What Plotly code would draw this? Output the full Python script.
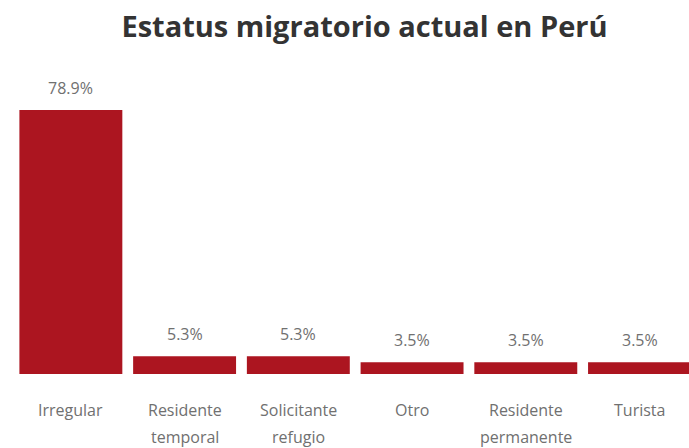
import plotly.graph_objects as go

categories = ["Irregular", "Residente temporal", "Solicitante refugio", "Otro", "Residente permanente", "Turista"]
line1 = ["Irregular", "Residente", "Solicitante", "Otro", "Residente", "Turista"]
line2 = ["", "temporal", "refugio", "", "permanente", ""]
values = [78.9, 5.3, 5.3, 3.5, 3.5, 3.5]
value_labels = ["78.9%", "5.3%", "5.3%", "3.5%", "3.5%", "3.5%"]

BAR = "#AC1520"
LBL = "#707070"
FONT = "Open Sans"

fig = go.Figure(go.Bar(x=categories, y=values, marker=dict(color=BAR, line=dict(width=0)),
                       hoverinfo="skip"))

ann = []
for c, v, t in zip(categories, values, value_labels):
    ann.append(dict(x=c, y=v, xref="x", yref="y", text=t, showarrow=False,
                    yanchor="bottom", yshift=9, font=dict(family=FONT, size=16, color=LBL)))
for c, a, b in zip(categories, line1, line2):
    ann.append(dict(x=c, y=0, xref="x", yref="y", text=a, showarrow=False,
                    yanchor="middle", yshift=-36, font=dict(family=FONT, size=16, color=LBL)))
    if b:
        ann.append(dict(x=c, y=0, xref="x", yref="y", text=b, showarrow=False,
                        yanchor="middle", yshift=-63, font=dict(family=FONT, size=16, color=LBL)))

fig.update_layout(
    width=689, height=448,
    margin=dict(l=14, r=0, t=60, b=74),
    paper_bgcolor="white", plot_bgcolor="white",
    bargap=0.095,
    showlegend=False,
    title=dict(text="<b>Estatus migratorio actual en Perú</b>", x=0.529, xanchor="center",
               y=0.94, yanchor="middle", yref="container",
               font=dict(family="Open Sans", size=29, color="#333333")),
    xaxis=dict(range=[-0.5, 5.435], showticklabels=False, showgrid=False, zeroline=False,
               showline=False, ticks=""),
    yaxis=dict(range=[0, 93.8], visible=False, showgrid=False, zeroline=False),
    annotations=ann,
)
fig.write_html("out.html", config={"displayModeBar": False},
               post_script="document.body.style.margin='0px';")
